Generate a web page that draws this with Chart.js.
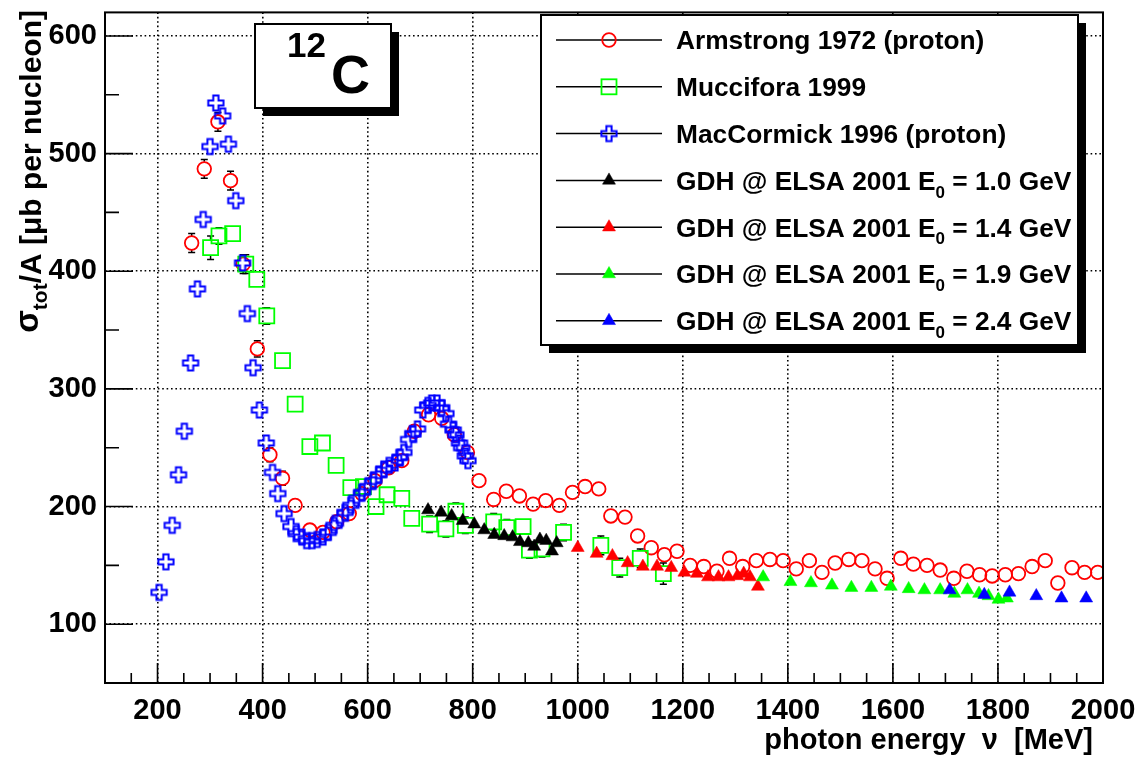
<!DOCTYPE html>
<html>
<head>
<meta charset="utf-8">
<title>12C total photoabsorption cross section</title>
<style>
  html, body { margin: 0; padding: 0; background: #ffffff; }
  canvas { display: block; }
</style>
<script src="https://cdn.jsdelivr.net/npm/chart.js@4.4.1/dist/chart.umd.min.js"></script>
</head>
<body>
<canvas id="chart" width="1141" height="758"></canvas>
<script>
// ---- data: photon energy [MeV], sigma_tot/A [ub per nucleon], error ----
const armstrongE = [265, 289, 315, 339, 363, 390, 414, 438, 462, 490, 515, 541, 565, 589, 614, 640, 665, 689, 716, 741, 765, 790, 812, 840, 864, 889, 915, 939, 965, 990, 1014, 1040, 1063, 1090, 1114, 1140, 1165, 1189, 1214, 1240, 1265, 1289, 1314, 1340, 1366, 1391, 1416, 1441, 1465, 1490, 1516, 1541, 1566, 1589, 1615, 1639, 1665, 1690, 1716, 1741, 1765, 1789, 1814, 1839, 1865, 1890, 1914, 1941, 1965, 1990];
const armstrongS = [424, 487, 527, 477, 406, 334, 244, 224, 201, 180, 178, 187, 194, 211, 222, 233, 239, 264, 278, 275, 261, 246, 222, 206, 213, 209, 202, 205, 201, 212, 217, 215, 192, 191, 175, 165, 159, 162, 150, 149, 145, 156, 149, 154, 155, 154, 147, 154, 144, 152, 155, 154, 147, 139, 156, 151, 150, 146, 139, 145, 142, 141, 142, 143, 149, 154, 135, 148, 144, 144];
const armstrongErr = [8, 8, 8, 8, 8, 7, 6, 6, 5, 4, 4, 3, 3, 3, 3, 3, 3, 3, 3, 3, 3, 3, 3, 3, 3, 3, 3, 3, 3, 3, 3, 3, 3, 3, 3, 3, 3, 3, 3, 3, 3, 3, 3, 3, 3, 3, 3, 3, 3, 3, 3, 3, 3, 3, 3, 3, 3, 3, 3, 3, 3, 3, 3, 3, 3, 3, 3, 3, 3, 3];

const mucciforaE = [301, 317, 343, 368, 389, 408, 438, 462, 490, 514, 540, 568, 592, 616, 637, 665, 684, 718, 749, 768, 786, 840, 865, 896, 908, 932, 973, 1044, 1080, 1119, 1163];
const mucciforaS = [420, 430, 432, 406, 393, 362, 324, 287, 251, 254, 235, 216, 217, 200, 210, 207, 190, 185, 181, 196, 184, 187, 182, 183, 163, 164, 178, 167, 148, 156, 143];
const mucciforaErr = [10, 7, 5, 8, 5, 7, 5, 5, 5, 5, 5, 5, 5, 5, 5, 5, 5, 7, 7, 7, 7, 7, 7, 6, 7, 7, 7, 8, 8, 8, 9];

const maccormickE = [203, 216, 228, 240, 251, 263, 276, 287, 300, 311, 324, 335, 349, 362, 371, 382, 394, 407, 419, 429, 441, 454, 464, 475, 484, 494, 504, 515, 525, 536, 548, 557, 568, 579, 589, 600, 611, 621, 631, 641, 652, 662, 669, 678, 686, 695, 705, 715, 722, 732, 741, 749, 754, 763, 768, 775, 779, 786, 791];
const maccormickS = [127, 153, 184, 227, 264, 322, 385, 444, 506, 543, 532, 508, 460, 407, 364, 318, 282, 254, 229, 211, 194, 183, 177, 174, 171, 171, 172, 174, 178, 184, 190, 195, 201, 207, 212, 217, 222, 227, 232, 235, 237, 242, 246, 257, 262, 266, 282, 286, 288, 288, 284, 279, 270, 265, 261, 254, 250, 243, 239];

const gdh10E = [715, 740, 760, 781, 803, 822, 841, 860, 876, 890, 906, 917, 928, 940, 951, 960];
const gdh10S = [197, 195, 192, 188, 185, 180, 176, 175, 174, 170, 169, 166, 172, 171, 162, 169];

const gdh14E = [1000, 1036, 1066, 1095, 1124, 1151, 1178, 1203, 1227, 1248, 1268, 1287, 1304, 1316, 1328, 1343];
const gdh14S = [165, 160, 158, 152, 149, 149, 148, 144, 143, 140, 140, 140, 141, 143, 140, 132];

const gdh19E = [1353, 1405, 1444, 1484, 1521, 1559, 1596, 1630, 1660, 1690, 1717, 1742, 1764, 1782, 1801, 1817];
const gdh19S = [140, 136, 135, 133, 131, 131, 132, 130, 129, 129, 126, 129, 126, 124, 121, 122];

const gdh24E = [1708, 1774, 1822, 1873, 1921, 1968];
const gdh24S = [129, 125, 127, 124, 122, 122];

const xTickValues = [200, 400, 600, 800, 1000, 1200, 1400, 1600, 1800, 2000];
const yTickValues = [100, 200, 300, 400, 500, 600];

// ---- styling helpers ----
const FONT = '"Liberation Sans", Arial, Helvetica, sans-serif';

function toPoints(e, s) {
  return e.map((v, i) => ({ x: v, y: s[i] }));
}

// open cross marker (outlined plus sign)
function makeOpenCross(color) {
  const c = document.createElement('canvas');
  c.width = 20; c.height = 20;
  const g = c.getContext('2d');
  const s = 7.6, a = 2.6, o = 10;
  const path = [[-a, -s], [a, -s], [a, -a], [s, -a], [s, a], [a, a], [a, s], [-a, s], [-a, a], [-s, a], [-s, -a], [-a, -a]];
  g.strokeStyle = color;
  g.lineWidth = 2;
  g.beginPath();
  path.forEach(([px, py], i) => (i ? g.lineTo(o + px, o + py) : g.moveTo(o + px, o + py)));
  g.closePath();
  g.stroke();
  return c;
}
const blueCross = makeOpenCross('#0000ff');
const NONE = 'rgba(0,0,0,0)';

function hollow(color, style, radius) {
  return { pointStyle: style, pointRadius: radius, pointHoverRadius: radius, pointBorderColor: color, pointBackgroundColor: NONE, pointBorderWidth: 1.8 };
}
function filled(color) {
  return { pointStyle: 'triangle', pointRadius: 7.5, pointHoverRadius: 7.5, pointBorderColor: color, pointBackgroundColor: color, pointBorderWidth: 0.5 };
}

const datasets = [
  Object.assign({ label: 'Armstrong 1972 (proton)', data: toPoints(armstrongE, armstrongS), errors: armstrongErr, markerHalf: 7, order: 7 }, hollow('#ff0000', 'circle', 6.8)),
  Object.assign({ label: 'Muccifora 1999', data: toPoints(mucciforaE, mucciforaS), errors: mucciforaErr, markerHalf: 7.5, order: 6 }, hollow('#00ff00', 'rect', 10.6)),
  Object.assign({ label: 'MacCormick 1996 (proton)', data: toPoints(maccormickE, maccormickS), order: 5 }, hollow('#0000ff', blueCross, 8)),
  Object.assign({ label: 'GDH @ ELSA 2001 E_0 = 1.0 GeV', data: toPoints(gdh10E, gdh10S), order: 4 }, filled('#000000')),
  Object.assign({ label: 'GDH @ ELSA 2001 E_0 = 1.4 GeV', data: toPoints(gdh14E, gdh14S), order: 3 }, filled('#ff0000')),
  Object.assign({ label: 'GDH @ ELSA 2001 E_0 = 1.9 GeV', data: toPoints(gdh19E, gdh19S), order: 2 }, filled('#00ff00')),
  Object.assign({ label: 'GDH @ ELSA 2001 E_0 = 2.4 GeV', data: toPoints(gdh24E, gdh24S), order: 1 }, filled('#0000ff'))
];

// draw one marker in the style of a dataset (used by the legend)
function drawMarker(ctx, ds, x, y) {
  const r = ds.pointRadius;
  ctx.save();
  ctx.lineWidth = ds.pointBorderWidth;
  ctx.strokeStyle = ds.pointBorderColor;
  ctx.fillStyle = ds.pointBackgroundColor;
  if (typeof ds.pointStyle === 'object') {
    ctx.drawImage(ds.pointStyle, x - ds.pointStyle.width / 2, y - ds.pointStyle.height / 2);
  } else if (ds.pointStyle === 'circle') {
    ctx.beginPath(); ctx.arc(x, y, r, 0, 2 * Math.PI); ctx.stroke();
  } else if (ds.pointStyle === 'rect') {
    const h = Math.SQRT1_2 * r;
    ctx.strokeRect(x - h, y - h, 2 * h, 2 * h);
  } else if (ds.pointStyle === 'triangle') {
    ctx.beginPath();
    for (let k = 0; k < 3; k++) {
      const a = k * 2 * Math.PI / 3;
      const px = x + Math.sin(a) * r, py = y - Math.cos(a) * r;
      k ? ctx.lineTo(px, py) : ctx.moveTo(px, py);
    }
    ctx.closePath(); ctx.fill(); ctx.stroke();
  }
  ctx.restore();
}

// text with single-character subscripts written as "_x"
function drawRich(ctx, text, x, y, size) {
  const parts = text.split(/_(\w)/);
  let cx = x;
  parts.forEach((p, k) => {
    const sub = k % 2 === 1;
    const fs = sub ? Math.round(size * 0.66) : size;
    ctx.font = `bold ${fs}px ${FONT}`;
    ctx.fillText(p, cx, y + (sub ? size * 0.3 : 0));
    cx += ctx.measureText(p).width;
  });
}

function boxWithShadow(ctx, x, y, w, h, off) {
  ctx.fillStyle = '#000';
  ctx.fillRect(x + off, y + off, w, h);
  ctx.fillStyle = '#fff';
  ctx.fillRect(x, y, w, h);
  ctx.lineWidth = 2;
  ctx.strokeStyle = '#000';
  ctx.strokeRect(x, y, w, h);
}

const rootStyle = {
  id: 'rootStyle',
  // error bars are drawn just before the markers of their own graph
  beforeDatasetDraw(chart, args) {
    const ds = chart.data.datasets[args.index];
    if (!ds.errors) return;
    const { ctx, scales: { x, y } } = chart;
    ctx.save();
    ctx.strokeStyle = '#000';
    ctx.lineWidth = 1.5;
    ctx.beginPath();
    ds.data.forEach((p, i) => {
      const e = ds.errors[i];
      if (!e) return;
      const px = x.getPixelForValue(p.x), py = y.getPixelForValue(p.y);
      const top = y.getPixelForValue(p.y + e), bot = y.getPixelForValue(p.y - e);
      const gap = ds.markerHalf;
      if (py - top > gap) {
        ctx.moveTo(px, py - gap); ctx.lineTo(px, top);
        ctx.moveTo(px - 3.5, top); ctx.lineTo(px + 3.5, top);
      }
      if (bot - py > gap) {
        ctx.moveTo(px, py + gap); ctx.lineTo(px, bot);
        ctx.moveTo(px - 3.5, bot); ctx.lineTo(px + 3.5, bot);
      }
    });
    ctx.stroke();
    ctx.restore();
  },
  afterDraw(chart) {
    const { ctx, chartArea: a, scales: { x, y } } = chart;
    ctx.save();

    // frame
    ctx.strokeStyle = '#000';
    ctx.lineWidth = 2;
    ctx.strokeRect(a.left, a.top, a.right - a.left, a.bottom - a.top);

    // inward ticks
    ctx.lineWidth = 1.6;
    ctx.beginPath();
    for (let v = 150; v < 2000; v += 50) {
      const px = x.getPixelForValue(v);
      const len = v % 200 === 0 ? 20 : 10;
      ctx.moveTo(px, a.bottom); ctx.lineTo(px, a.bottom - len);
    }
    for (let v = 100; v < 620; v += 50) {
      const py = y.getPixelForValue(v);
      const len = v % 100 === 0 ? 28 : 14;
      ctx.moveTo(a.left, py); ctx.lineTo(a.left + len, py);
    }
    ctx.stroke();

    // axis titles
    ctx.fillStyle = '#000';
    ctx.textBaseline = 'alphabetic';
    ctx.textAlign = 'right';
    ctx.font = `bold 29px ${FONT}`;
    ctx.fillText('photon energy  \u03BD  [MeV]', 1093, 749);

    ctx.save();
    ctx.translate(41, 10);
    ctx.rotate(-Math.PI / 2);
    ctx.textAlign = 'left';
    const partsY = [
      { t: '\u03C3', size: 33, dy: -3 },
      { t: 'tot', size: 21, dy: 6 },
      { t: '/A [\u03BCb per nucleon]', size: 30, dy: 0 }
    ];
    let total = 0;
    partsY.forEach(p => { ctx.font = `bold ${p.size}px ${FONT}`; p.w = ctx.measureText(p.t).width; total += p.w; });
    let tx = -total;
    partsY.forEach(p => { ctx.font = `bold ${p.size}px ${FONT}`; ctx.fillText(p.t, tx, p.dy); tx += p.w; });
    ctx.restore();

    // nucleus label
    boxWithShadow(ctx, 255, 24, 136, 84, 8);
    ctx.fillStyle = '#000';
    ctx.textAlign = 'left';
    ctx.font = `bold 35px ${FONT}`;
    ctx.fillText('12', 287, 57);
    ctx.font = `bold 54px ${FONT}`;
    ctx.fillText('C', 331, 93);

    // legend
    boxWithShadow(ctx, 541, 15, 537, 330, 8);
    chart.data.datasets.forEach((ds, i) => {
      const ry = 40 + i * 46.8;
      ctx.strokeStyle = '#000';
      ctx.lineWidth = 1.5;
      ctx.beginPath(); ctx.moveTo(556, ry); ctx.lineTo(662, ry); ctx.stroke();
      drawMarker(ctx, ds, 609, ry);
      ctx.fillStyle = '#000';
      ctx.textAlign = 'left';
      drawRich(ctx, ds.label, 676, ry + 9.3, 26.3);
    });

    ctx.restore();
  }
};

const tickFont = { family: FONT, size: 29, weight: 'bold' };
const plainNumber = (v) => String(v);

new Chart(document.getElementById('chart'), {
  type: 'scatter',
  data: { datasets },
  plugins: [rootStyle],
  options: {
    responsive: false,
    devicePixelRatio: 1,
    animation: false,
    events: [],
    layout: { padding: { left: 0, top: 7, right: 38, bottom: 0 } },
    plugins: { legend: { display: false }, tooltip: { enabled: false } },
    scales: {
      x: {
        type: 'linear',
        position: 'bottom',
        min: 100,
        max: 2000,
        afterBuildTicks: (s) => { s.ticks = xTickValues.map(v => ({ value: v })); },
        afterFit: (s) => { s.height = 75; s.paddingLeft = 0; s.paddingRight = 0; },
        ticks: { font: tickFont, color: '#000', padding: 11, maxRotation: 0, autoSkip: false, callback: plainNumber },
        grid: { color: '#000', lineWidth: 1.6, drawTicks: false },
        border: { display: false, dash: [1.6, 2.8] }
      },
      y: {
        type: 'linear',
        position: 'left',
        min: 50,
        max: 620,
        afterBuildTicks: (s) => { s.ticks = yTickValues.map(v => ({ value: v })); },
        afterFit: (s) => { s.width = 105; s.paddingTop = 0; s.paddingBottom = 0; },
        ticks: { font: tickFont, color: '#000', padding: 8, autoSkip: false, callback: plainNumber },
        grid: { color: '#000', lineWidth: 1.6, drawTicks: false },
        border: { display: false, dash: [1.6, 2.8] }
      }
    }
  }
});
</script>
</body>
</html>
